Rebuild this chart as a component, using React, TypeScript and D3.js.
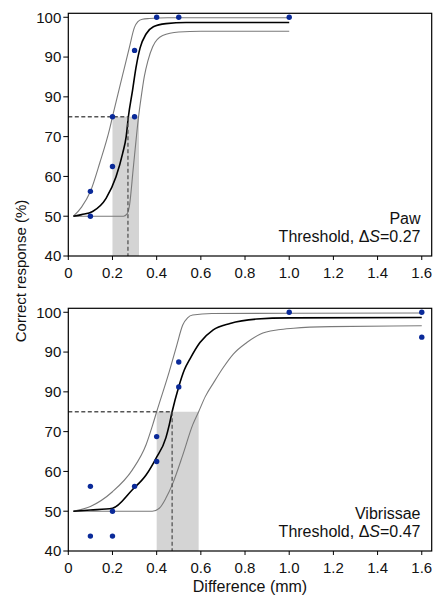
import React from "react";
import * as d3 from "d3";

// ---- axis ticks ----
const xTicks = [0, 0.2, 0.4, 0.6, 0.8, 1.0, 1.2, 1.4, 1.6];
const xTickLabels = ["0", "0.2", "0.4", "0.6", "0.8", "1.0", "1.2", "1.4", "1.6"];
const yTicks = [100, 90, 80, 70, 60, 50, 40];
const yTickLabels = ["100", "90", "90", "70", "60", "50", "40"];

// ---- Paw panel ----
const pawPointsX = [0.1, 0.1, 0.2, 0.2, 0.3, 0.3, 0.4, 0.5, 1.0];
const pawPointsY = [50, 56.25, 62.5, 75, 75, 91.67, 100, 100, 100];
const pawFitX = [0.023, 0.06, 0.11, 0.171, 0.216, 0.246, 0.262, 0.272, 0.291, 0.306, 0.325, 0.352, 0.385, 0.442, 0.533, 1.0];
const pawFitY = [50, 50.4, 51.2, 54.5, 59.9, 65.8, 70, 75, 81.7, 87.2, 92.3, 95.8, 97.6, 98.4, 98.7, 98.7];
const pawUpperX = [0.023, 0.06, 0.1, 0.143, 0.186, 0.2, 0.246, 0.276, 0.299, 0.315, 0.335, 0.367, 0.45, 1.0];
const pawUpperY = [50, 52.3, 56.2, 63.5, 71.7, 75, 85.5, 92.3, 97.4, 98.9, 99.5, 99.7, 99.9, 99.9];
const pawLowerX = [0.023, 0.25, 0.265, 0.276, 0.295, 0.318, 0.33, 0.344, 0.36, 0.382, 0.427, 0.5, 0.6, 1.0];
const pawLowerY = [50, 50, 50.5, 52.4, 62.6, 75, 80, 85.1, 89, 92.6, 95.4, 96.3, 96.5, 96.5];
const pawThreshold = 0.27;
const pawBand = [0.2, 0.32];

// ---- Vibrissae panel ----
const vibPointsX = [0.1, 0.1, 0.2, 0.2, 0.3, 0.4, 0.4, 0.5, 0.5, 1.0, 1.6, 1.6];
const vibPointsY = [56.25, 43.75, 50, 43.75, 56.25, 68.75, 62.5, 87.5, 81.25, 100, 100, 93.75];
const vibFitX = [0.023, 0.1, 0.2, 0.29, 0.352, 0.397, 0.442, 0.457, 0.47, 0.5, 0.525, 0.551, 0.596, 0.656, 0.732, 0.853, 1.0, 1.6];
const vibFitY = [50, 50.3, 50.75, 55.4, 59.1, 63.3, 68.5, 71.7, 75, 81.3, 85.5, 88.3, 92.4, 95.6, 97.2, 98.3, 98.6, 98.7];
const vibUpperX = [0.023, 0.1, 0.2, 0.29, 0.352, 0.382, 0.4, 0.457, 0.49, 0.518, 0.54, 0.563, 0.65, 1.6];
const vibUpperY = [50, 51.2, 54.9, 60.4, 66.7, 71.7, 75, 85.1, 91.5, 96.8, 98.6, 99.3, 99.7, 99.8];
const vibLowerX = [0.023, 0.38, 0.412, 0.442, 0.473, 0.518, 0.563, 0.59, 0.62, 0.66, 0.7, 0.747, 0.808, 0.868, 0.95, 1.02, 1.185, 1.6];
const vibLowerY = [50, 50, 50.75, 53.3, 57, 64.1, 71.7, 75, 78.8, 82.5, 86, 89.5, 92.4, 94.5, 95.6, 96, 96.4, 96.6];
const vibThreshold = 0.47;
const vibBand = [0.4, 0.59];

const W = 434;
const H = 597;
const LEFT = 68.3;
const RIGHT = 431.7;
const FONT = "Arial, 'Liberation Sans', Helvetica, sans-serif";

const xScale = d3.scaleLinear().domain([0, 1.645]).range([LEFT, RIGHT]);

function zip(xs: number[], ys: number[]): [number, number][] {
  return xs.map((x, i) => [x, ys[i]]);
}

function Panel(props: {
  top: number;
  bottom: number;
  ptsX: number[];
  ptsY: number[];
  fitX: number[];
  fitY: number[];
  upX: number[];
  upY: number[];
  loX: number[];
  loY: number[];
  thr: number;
  band: number[];
  name: string;
  thrLabel: string;
}) {
  const { top, bottom } = props;
  const y = d3.scaleLinear().domain([40, 101]).range([bottom, top]);
  const line = d3
    .line<[number, number]>()
    .x((d) => xScale(d[0]))
    .y((d) => y(d[1]))
    .curve(d3.curveMonotoneX);
  return (
    <g>
      <rect
        x={xScale(props.band[0])}
        y={y(75)}
        width={xScale(props.band[1]) - xScale(props.band[0])}
        height={y(40) - y(75)}
        fill="#d4d4d4"
      />
      <path d={line(zip(props.upX, props.upY)) || ""} fill="none" stroke="#7a7a7a" strokeWidth={1.1} />
      <path d={line(zip(props.loX, props.loY)) || ""} fill="none" stroke="#7a7a7a" strokeWidth={1.1} />
      <path d={line(zip(props.fitX, props.fitY)) || ""} fill="none" stroke="#000" strokeWidth={1.6} />
      <line
        x1={xScale(0)}
        x2={xScale(props.thr)}
        y1={y(75)}
        y2={y(75)}
        stroke="#555"
        strokeWidth={1.3}
        strokeDasharray="4,2.5"
      />
      <line
        x1={xScale(props.thr)}
        x2={xScale(props.thr)}
        y1={y(75)}
        y2={y(40)}
        stroke="#555"
        strokeWidth={1.3}
        strokeDasharray="4,2.5"
      />
      {props.ptsX.map((px, i) => (
        <circle key={i} cx={xScale(px)} cy={y(props.ptsY[i])} r={2.7} fill="#0a2a99" />
      ))}
      {/* frame */}
      <rect x={LEFT} y={top} width={RIGHT - LEFT} height={bottom - top} fill="none" stroke="#000" strokeWidth={1.2} />
      {/* y ticks */}
      {yTicks.map((t, i) => (
        <g key={"y" + i}>
          <line x1={LEFT - 5} x2={LEFT} y1={y(t)} y2={y(t)} stroke="#000" strokeWidth={1} />
          <text x={LEFT - 7} y={y(t) + 5.3} textAnchor="end" fontSize={15} fontFamily={FONT} fill="#111">
            {yTickLabels[i]}
          </text>
        </g>
      ))}
      {/* x ticks */}
      {xTicks.map((t, i) => (
        <g key={"x" + i}>
          <line x1={xScale(t)} x2={xScale(t)} y1={bottom} y2={bottom + 4} stroke="#000" strokeWidth={1} />
          <text x={xScale(t)} y={bottom + 22.3} textAnchor="middle" fontSize={15} fontFamily={FONT} fill="#111">
            {xTickLabels[i]}
          </text>
        </g>
      ))}
      <text x={420.5} y={bottom - 32} textAnchor="end" fontSize={16} fontFamily={FONT} fill="#111">
        {props.name}
      </text>
      <text x={420.5} y={bottom - 14.5} textAnchor="end" fontSize={16} fontFamily={FONT} fill="#111">
        {props.thrLabel}
        <tspan>Δ</tspan>
        <tspan fontStyle="italic">S</tspan>
        {"=" + props.thr.toFixed(2)}
      </text>
    </g>
  );
}

export default function App() {
  return (
    <svg
      width={W}
      height={H}
      viewBox={`0 0 ${W} ${H}`}
      style={{ position: "absolute", left: 0, top: 0, background: "#fff", display: "block" }}
    >
      <rect x={0} y={0} width={W} height={H} fill="#fff" />
      <Panel
        top={13.3}
        bottom={256}
        ptsX={pawPointsX}
        ptsY={pawPointsY}
        fitX={pawFitX}
        fitY={pawFitY}
        upX={pawUpperX}
        upY={pawUpperY}
        loX={pawLowerX}
        loY={pawLowerY}
        thr={pawThreshold}
        band={pawBand}
        name="Paw"
        thrLabel="Threshold, "
      />
      <Panel
        top={308.3}
        bottom={551}
        ptsX={vibPointsX}
        ptsY={vibPointsY}
        fitX={vibFitX}
        fitY={vibFitY}
        upX={vibUpperX}
        upY={vibUpperY}
        loX={vibLowerX}
        loY={vibLowerY}
        thr={vibThreshold}
        band={vibBand}
        name="Vibrissae"
        thrLabel="Threshold, "
      />
      <text
        transform="translate(25.5,271) rotate(-90)"
        textAnchor="middle"
        fontSize={15}
        fontFamily={FONT}
        fill="#111"
      >
        Correct response (%)
      </text>
      <text x={250} y={592} textAnchor="middle" fontSize={16} fontFamily={FONT} fill="#111">
        Difference (mm)
      </text>
    </svg>
  );
}
